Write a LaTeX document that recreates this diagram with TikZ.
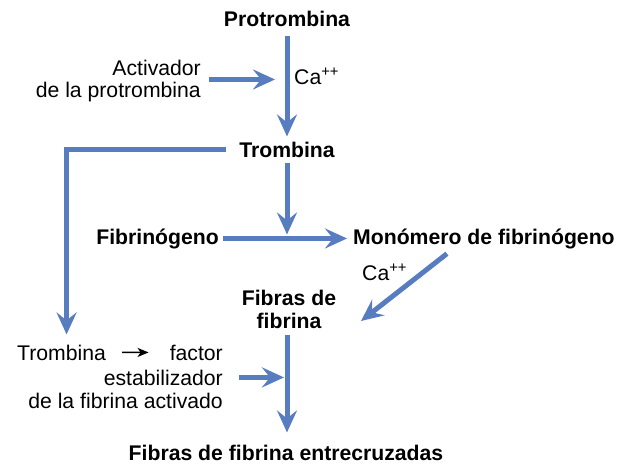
\documentclass[tikz,border=0pt]{standalone}
\usepackage{fontspec}
\setmainfont{Liberation Sans}
\usetikzlibrary{arrows.meta, positioning, calc}
\definecolor{flowblue}{RGB}{88,124,192}

\begin{document}
\begin{tikzpicture}[
    x=1pt, y=-1pt,
    txt/.style={inner sep=0pt, font=\fontsize{21.2}{23}\selectfont},
    bold/.style={inner sep=0pt, font=\fontsize{21.2}{23}\selectfont\bfseries},
    arrow/.style={-{Stealth[length=22pt, width=20pt, inset=8pt]}, line width=5pt, draw=flowblue},
    smallarrow/.style={-{Stealth[length=11pt, width=9pt, inset=3pt]}, line width=1.5pt}
]
\useasboundingbox (0,0) rectangle (625,466);

% Main chain
\node[bold, anchor=base] (prot) at (287,26) {Protrombina};
\node[bold, anchor=base] (trom) at (287,157) {Trombina};
\node[bold, anchor=base east] (fibg) at (219,244) {Fibrinógeno};
\node[bold, anchor=base west] (mono) at (353,244) {Monómero de fibrinógeno};
\node[bold, anchor=base] (fib1) at (289,305) {Fibras de};
\node[bold, anchor=base] (fib2) at (289,328) {fibrina};
\node[bold, anchor=base] (fent) at (286,460) {Fibras de fibrina entrecruzadas};

% Activator and calcium
\node[txt, anchor=base east] (act1) at (201,75) {Activador};
\node[txt, anchor=base east] (act2) at (201,97) {de la protrombina};
\node[txt, anchor=base west] (ca1) at (294,84) {Ca\textsuperscript{++}};
\node[txt, anchor=base west] (ca2) at (362,280) {Ca\textsuperscript{++}};

% Stabilizing factor
\node[txt, anchor=base west] (trb2) at (17,360) {Trombina};
\node[txt, anchor=base east] (fac) at (223,360) {factor};
\node[txt, anchor=base east] (est) at (223,385) {estabilizador};
\node[txt, anchor=base east] (fact) at (223,408) {de la fibrina activado};

% Helper points
\coordinate (actmid) at ($(act1.east)!.5!(act2.east)$);
\coordinate (j1) at (trom |- fibg);
\coordinate (diagend) at (361,321);

% Arrows down the chain
\draw[arrow, shorten <=10pt, shorten >=5pt] (prot) -- (trom);
\draw[arrow, shorten <=6pt, shorten >=4pt] (trom) -- (j1);
\draw[arrow, shorten <=4pt, shorten >=6pt] (fibg) -- (mono);
\draw[arrow] ([xshift=-37pt, yshift=-5pt]mono.south) -- (diagend);
\draw[arrow, shorten <=7pt, shorten >=12pt] (fib2.south -| trom) -- (fent.north -| trom);

% Side inputs
\draw[arrow, shorten <=8pt, shorten >=12pt] (actmid) -- (actmid -| trom);
\draw[arrow, shorten <=16pt, shorten >=3pt] (est) -- (est -| trom);
\draw[arrow, shorten >=10pt] ([xshift=-13pt]trom.west) -| ([xshift=5pt]trb2.north);
\draw[smallarrow, shorten <=16pt, shorten >=21pt] (trb2) -- (fac);

\end{tikzpicture}
\end{document}
